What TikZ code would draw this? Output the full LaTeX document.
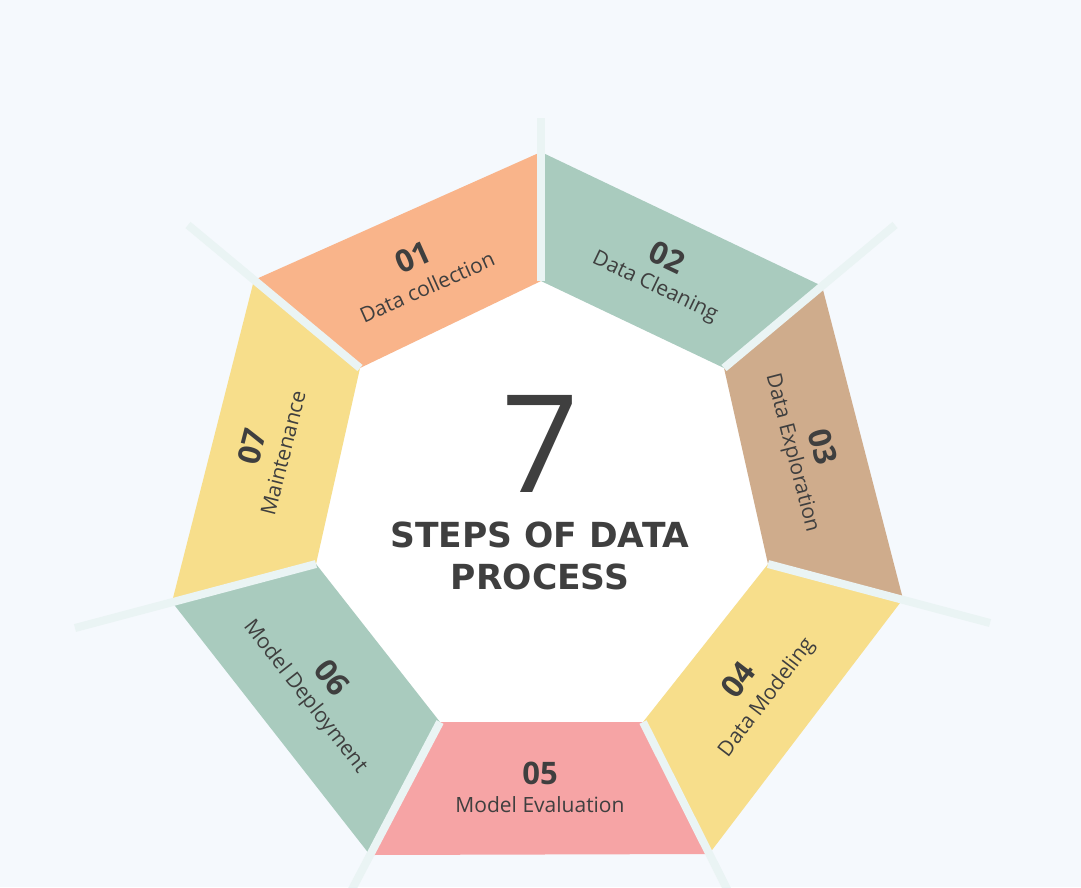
\documentclass[tikz,border=0pt]{standalone}
\usepackage{fontspec}
\setmainfont{Open Sans}
\newfontfamily\titlefont{DejaVu Sans}
\usepackage{tikz}

\definecolor{bgcol}{HTML}{F5F9FD}
\definecolor{sepcol}{HTML}{EAF4F4}
\definecolor{ink}{HTML}{3F3F3F}
\definecolor{peach}{HTML}{F9B48A}
\definecolor{sage}{HTML}{A9CBBE}
\definecolor{tan}{HTML}{CFAC8C}
\definecolor{sand}{HTML}{F7DE8B}
\definecolor{rose}{HTML}{F6A4A5}

\tikzset{
  num/.style={text=ink, font=\fontsize{31}{33}\selectfont\bfseries, inner sep=0pt},
  lbl/.style={text=ink, font=\fontsize{21}{25}\selectfont, inner sep=0pt},
  heading/.style={text=ink, font=\titlefont\fontsize{34.5}{36}\selectfont\bfseries, inner sep=0pt},
  sep/.style={draw=sepcol, line width=8pt}
}

\begin{document}
\begin{tikzpicture}[x=1pt,y=-1pt]
        \useasboundingbox (0,0) rectangle (1081,887);
        \clip (0,0) rectangle (1081,887);
        \fill[bgcol] (0,0) rectangle (1081,887);

        % inner corners
        \coordinate (i1) at (541,281);
        \coordinate (i2) at (724,368);
        \coordinate (i3) at (768,564);
        \coordinate (i4) at (643,722);
        \coordinate (i5) at (440,722);
        \coordinate (i6) at (316,564);
        \coordinate (i7) at (360,368);
        % outer corners
        \coordinate (o1) at (541,152);
        \coordinate (o2) at (822,286);
        \coordinate (o3) at (903,599);
        \coordinate (o4) at (709,854);
        \coordinate (o5) at (370,855);
        \coordinate (o6) at (172,602);
        \coordinate (o7) at (254,280);
        % separator ends
        \coordinate (e1) at (541,118);
        \coordinate (e2) at (895,225);
        \coordinate (e3) at (990,623);
        \coordinate (e4) at (731,897);
        \coordinate (e5) at (348,897);
        \coordinate (e6) at (75,628);
        \coordinate (e7) at (188,225);

        \fill[white] (i1) -- (i2) -- (i3) -- (i4) -- (i5) -- (i6) -- (i7) -- cycle;

        \fill[peach] (i7) -- (o7) -- (o1) -- (i1) -- cycle;
        \fill[sage] (i1) -- (o1) -- (o2) -- (i2) -- cycle;
        \fill[tan] (i2) -- (o2) -- (o3) -- (i3) -- cycle;
        \fill[sand] (i3) -- (o3) -- (o4) -- (i4) -- cycle;
        \fill[rose] (i4) -- (o4) -- (o5) -- (i5) -- cycle;
        \fill[sage] (i5) -- (o5) -- (o6) -- (i6) -- cycle;
        \fill[sand] (i6) -- (o6) -- (o7) -- (i7) -- cycle;

        \draw[sep] (i1) -- (e1);
        \draw[sep] (i2) -- (e2);
        \draw[sep] (i3) -- (e3);
        \draw[sep] (i4) -- (e4);
        \draw[sep] (i5) -- (e5);
        \draw[sep] (i6) -- (e6);
        \draw[sep] (i7) -- (e7);

        \node[text=ink, font=\fontsize{136}{140}\selectfont, inner sep=0pt] (seven) at (540,444) {7};
        \node[heading] (title) at (540,535) {STEPS OF DATA};
        \node[heading] (title2) at (540,577) {PROCESS};

        \node[num, rotate=24] (n01) at (413,257) {01};
        \node[lbl, rotate=24] (l01) at (427,287) {Data collection};
        \node[num, rotate=-25.5] (n02) at (667,257) {02};
        \node[lbl, rotate=-25.5] (l02) at (655,287) {Data Cleaning};
        \node[num, rotate=-75.5] (n03) at (823,447) {03};
        \node[lbl, rotate=-75.5] (l03) at (792,453) {Data Exploration};
        \node[num, rotate=52.6] (n04) at (738,680) {04};
        \node[lbl, rotate=52.6] (l04) at (767,698) {Data Modeling};
        \node[num] (n05) at (540,773) {05};
        \node[lbl] (l05) at (540,805) {Model Evaluation};
        \node[num, rotate=-52] (n06) at (332,678) {06};
        \node[lbl, rotate=-52] (l06) at (305,697) {Model Deployment};
        \node[num, rotate=75.7] (n07) at (252,447) {07};
        \node[lbl, rotate=75.7] (l07) at (283,453) {Maintenance};
    \end{tikzpicture}
\end{document}
